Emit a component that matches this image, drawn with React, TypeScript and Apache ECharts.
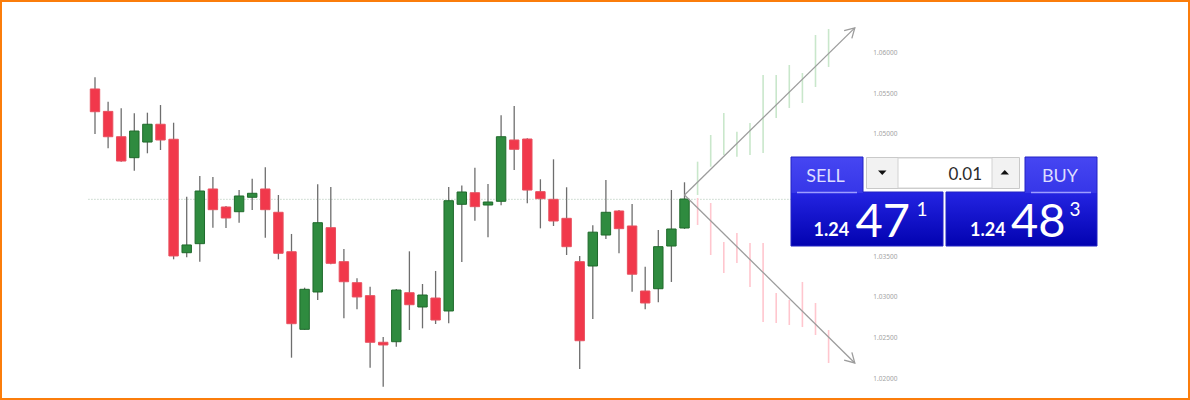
import React, { useEffect, useRef } from 'react';
import * as echarts from 'echarts';

// ---------- data ----------
const categories: string[] = Array.from({ length: 59 }, (_, i) => String(i + 1));

const opens = [
  1.0555, 1.05275, 1.04964, 1.04707, 1.04899, 1.05117, 1.04933, 1.03541, 1.03652, 1.04323,
  1.04102, 1.04044, 1.04221, 1.04323, 1.04037, 1.03553, 1.02601, 1.03059, 1.03848, 1.03431,
  1.03173, 1.03014, 1.02442, 1.02449, 1.0305, 1.02875, 1.02985, 1.02826, 1.04135, 1.04277,
  1.04126, 1.04172, 1.04924, 1.04936, 1.0429, 1.04196, 1.03963, 1.03431, 1.03378, 1.03758,
  1.04053, 1.03869, 1.03071, 1.03099, 1.03623, 1.03844,
];
const closes = [
  1.05271, 1.04964, 1.04666, 1.05034, 1.05117, 1.04924, 1.03501, 1.03636, 1.04298, 1.04069,
  1.03967, 1.04237, 1.0427, 1.04069, 1.03534, 1.0267, 1.03092, 1.03909, 1.03411, 1.03185,
  1.02998, 1.02442, 1.02409, 1.03083, 1.02903, 1.03022, 1.02715, 1.04179, 1.04286, 1.04106,
  1.04163, 1.04964, 1.0481, 1.0431, 1.04204, 1.0393, 1.03615, 1.02461, 1.03793, 1.04037,
  1.03836, 1.03277, 1.02924, 1.03615, 1.03832, 1.042,
];
const lows = [
  1.04998, 1.04822, 1.04658, 1.04547, 1.04761, 1.04801, 1.0346, 1.03485, 1.03431, 1.03848,
  1.03844, 1.03909, 1.04065, 1.03725, 1.0346, 1.02253, 1.02595, 1.02961, 1.03399, 1.02736,
  1.02847, 1.0213, 1.01897, 1.02388, 1.02593, 1.02613, 1.02666, 1.02675, 1.03427, 1.03934,
  1.0373, 1.04123, 1.04556, 1.04147, 1.0384, 1.03869, 1.03513, 1.02114, 1.02728, 1.03709,
  1.03534, 1.03063, 1.02847, 1.02933, 1.03182, 1.03832,
];
const highs = [
  1.05693, 1.05394, 1.05313, 1.05252, 1.05259, 1.05353, 1.05136, 1.04228, 1.04482, 1.0447,
  1.04114, 1.0431, 1.04449, 1.04589, 1.04249, 1.03771, 1.03112, 1.0438, 1.04347, 1.03587,
  1.03227, 1.03124, 1.02507, 1.03096, 1.03558, 1.03157, 1.03317, 1.04347, 1.04366, 1.04584,
  1.04384, 1.05227, 1.05341, 1.04945, 1.04442, 1.04687, 1.04344, 1.03501, 1.03879, 1.04433,
  1.04065, 1.04139, 1.03369, 1.0382, 1.0431, 1.04405,
];

// projected ranges (after the last candle)
const bullLows = [1.04249, 1.04596, 1.0474, 1.04719, 1.0474, 1.04764, 1.05194, 1.05317, 1.05378, 1.05574, 1.0582];
const bullHighs = [1.04658, 1.04985, 1.05255, 1.05026, 1.05133, 1.05722, 1.05722, 1.05844, 1.05746, 1.06212, 1.06286];
const bearLows = [1.03881, 1.03513, 1.03292, 1.03415, 1.0312, 1.02691, 1.02679, 1.02654, 1.02629, 1.02531, 1.02188];
const bearHighs = [1.04212, 1.04151, 1.03672, 1.03783, 1.0366, 1.0366, 1.03047, 1.02961, 1.03182, 1.02924, 1.02593];

const arrowStart = [45, 1.0425];
const arrowUpEnd = [58, 1.063];
const arrowDownEnd = [58, 1.02188];

const referenceLevel = 1.04196;
const yTickLabels = ['1.02000', '1.02500', '1.03000', '1.03500', '1.05000', '1.05500', '1.06000'];

const spinnerValue = '0.01';
const sellPrefix = '1.24';
const sellPips = '47';
const sellFraction = '1';
const buyPrefix = '1.24';
const buyPips = '48';
const buyFraction = '3';

// ---------- component ----------
export default function App() {
  const ref = useRef<HTMLDivElement>(null);

  useEffect(() => {
    if (!ref.current) return;
    const chart = echarts.init(ref.current, null, { renderer: 'svg' });

    const candleData = opens.map((o, i) => [i, o, closes[i], lows[i], highs[i]]);
    const bullData = bullLows.map((l, i) => [opens.length + i, l, bullHighs[i]]);
    const bearData = bearLows.map((l, i) => [opens.length + i, l, bearHighs[i]]);
    const arrowData = [
      [arrowStart[0], arrowStart[1], arrowUpEnd[0], arrowUpEnd[1]],
      [arrowStart[0], arrowStart[1], arrowDownEnd[0], arrowDownEnd[1]],
    ];

    const FONT = 'Lato, "Noto Sans", sans-serif';
    const tabGrad = {
      type: 'linear', x: 0, y: 0, x2: 0, y2: 1,
      colorStops: [{ offset: 0, color: '#4646f2' }, { offset: 1, color: '#3636e8' }],
    };
    const bodyGrad = {
      type: 'linear', x: 0, y: 0, x2: 0, y2: 1,
      colorStops: [{ offset: 0, color: '#2424e2' }, { offset: 1, color: '#0202b0' }],
    };

    const txt = (text: string, x: number, y: number, size: number, opts: any = {}) => ({
      type: 'text', x, y, z: 120,
      style: {
        text, fontSize: size, fontFamily: FONT, fill: opts.fill || '#ffffff',
        fontWeight: opts.weight || 'normal', align: opts.align || 'left', verticalAlign: 'middle',
      },
    });

    const graphics: any[] = [
      // SELL block
      { type: 'rect', z: 110, shape: { x: 791, y: 192, width: 152, height: 54 }, style: { fill: bodyGrad } },
      { type: 'rect', z: 110, shape: { x: 791, y: 157, width: 72, height: 36 }, style: { fill: tabGrad } },
      { type: 'polygon', z: 111, shape: { points: [[791, 157], [863, 157], [863, 192], [943, 192], [943, 246], [791, 246]] }, style: { fill: 'none', stroke: '#2323c4', lineWidth: 1 } },
      { type: 'line', z: 112, shape: { x1: 797, y1: 192.5, x2: 857, y2: 192.5 }, style: { stroke: '#9d9dff', lineWidth: 1.5 } },
      // BUY block
      { type: 'rect', z: 110, shape: { x: 946, y: 192, width: 151, height: 54 }, style: { fill: bodyGrad } },
      { type: 'rect', z: 110, shape: { x: 1025, y: 157, width: 72, height: 36 }, style: { fill: tabGrad } },
      { type: 'polygon', z: 111, shape: { points: [[1025, 157], [1097, 157], [1097, 246], [946, 246], [946, 192], [1025, 192]] }, style: { fill: 'none', stroke: '#2323c4', lineWidth: 1 } },
      { type: 'line', z: 112, shape: { x1: 1031, y1: 192.5, x2: 1091, y2: 192.5 }, style: { stroke: '#9d9dff', lineWidth: 1.5 } },
      // spinner
      { type: 'rect', z: 110, shape: { x: 866.5, y: 157.5, width: 153, height: 31 }, style: { fill: '#f2f2f2', stroke: '#c9c9c9', lineWidth: 1 } },
      { type: 'rect', z: 111, shape: { x: 898, y: 158, width: 94, height: 30 }, style: { fill: '#ffffff', stroke: '#d2d2d2', lineWidth: 1 } },
      { type: 'polygon', z: 112, shape: { points: [[878, 170.5], [886.5, 170.5], [882.25, 175]] }, style: { fill: '#111111' } },
      { type: 'polygon', z: 112, shape: { points: [[1000.5, 174.5], [1009, 174.5], [1004.75, 170]] }, style: { fill: '#111111' } },
      // texts
      txt('SELL', 825.5, 174.5, 18, { align: 'center', fill: '#dcdcff' }),
      txt('BUY', 1060, 174.5, 18, { align: 'center', fill: '#dcdcff' }),
      txt(spinnerValue, 982, 173.5, 17, { align: 'right', fill: '#2b2b2b' }),
      txt(sellPrefix, 813.5, 229, 18, { weight: 'bold' }),
      txt(sellPips, 855.5, 219, 47),
      txt(sellFraction, 922, 208, 19, { align: 'center' }),
      txt(buyPrefix, 970, 229, 18, { weight: 'bold' }),
      txt(buyPips, 1011, 219, 47),
      txt(buyFraction, 1075, 208, 19, { align: 'center' }),
      // orange frame
      { type: 'rect', z: 200, silent: true, shape: { x: 1, y: 1, width: 1188, height: 398 }, style: { fill: 'none', stroke: '#fb7d0b', lineWidth: 2 } },
    ];

    const rangeRender = (color: string) => (params: any, api: any) => {
      const a = api.coord([api.value(0), api.value(1)]);
      const b = api.coord([api.value(0), api.value(2)]);
      return { type: 'line', shape: { x1: a[0], y1: a[1], x2: b[0], y2: b[1] }, style: { stroke: color, lineWidth: 1.6 } };
    };

    chart.setOption({
      animation: false,
      backgroundColor: '#ffffff',
      grid: { left: 88.45, width: 772.9, top: 11.55, height: 407.5, outerBoundsMode: 'none', containLabel: false },
      xAxis: { type: 'category', data: categories, boundaryGap: true, show: false },
      yAxis: {
        type: 'value', position: 'right', min: 1.015, max: 1.065, interval: 0.005, scale: true,
        axisLine: { show: false }, axisTick: { show: false }, splitLine: { show: false },
        axisLabel: {
          margin: 12, fontSize: 6.5, color: '#a3a3a3', fontFamily: '"Noto Sans", sans-serif',
          formatter: (v: number) => {
            const s = v.toFixed(5);
            return yTickLabels.includes(s) ? s : '';
          },
        },
      },
      graphic: graphics,
      series: [
        {
          type: 'custom', data: [[0, referenceLevel]], encode: { x: 0, y: 1 }, silent: true,
          renderItem: (params: any, api: any) => {
            const y = api.coord([0, api.value(1)])[1];
            const cs = params.coordSys;
            return {
              type: 'line',
              shape: { x1: cs.x, y1: y, x2: cs.x + cs.width, y2: y },
              style: { stroke: '#a9c0af', lineWidth: 1, lineDash: [1, 2] },
            };
          },
        },
        { type: 'custom', data: bullData, encode: { x: 0, y: [1, 2] }, renderItem: rangeRender('#c9e7cb'), silent: true },
        { type: 'custom', data: bearData, encode: { x: 0, y: [1, 2] }, renderItem: rangeRender('#ffc6ce'), silent: true },
        {
          type: 'custom', data: candleData, encode: { x: 0, y: [1, 2, 3, 4] }, silent: true,
          renderItem: (params: any, api: any) => {
            const i = api.value(0);
            const o = api.value(1), c = api.value(2), l = api.value(3), h = api.value(4);
            const pO = api.coord([i, o]);
            const pC = api.coord([i, c]);
            const pL = api.coord([i, l]);
            const pH = api.coord([i, h]);
            const w = api.size([1, 0])[0] * 0.72;
            const up = c >= o;
            const top = Math.min(pO[1], pC[1]);
            const bh = Math.max(Math.abs(pO[1] - pC[1]), 2);
            return {
              type: 'group',
              children: [
                { type: 'line', shape: { x1: pH[0], y1: pH[1], x2: pL[0], y2: pL[1] }, style: { stroke: '#6e6e6e', lineWidth: 1.3 } },
                {
                  type: 'rect', shape: { x: pO[0] - w / 2, y: top, width: w, height: bh },
                  style: { fill: up ? '#2f8b3f' : '#f1384b', stroke: up ? '#1f6a2b' : '#e8505f', lineWidth: 1 },
                },
              ],
            };
          },
        },
        {
          type: 'custom', data: arrowData, encode: { x: [0, 2], y: [1, 3] }, silent: true,
          renderItem: (params: any, api: any) => {
            const p0 = api.coord([api.value(0), api.value(1)]);
            const p1 = api.coord([api.value(2), api.value(3)]);
            const ang = Math.atan2(p1[1] - p0[1], p1[0] - p0[0]);
            const len = 11;
            const h1 = [p1[0] - len * Math.cos(ang - Math.PI / 6), p1[1] - len * Math.sin(ang - Math.PI / 6)];
            const h2 = [p1[0] - len * Math.cos(ang + Math.PI / 6), p1[1] - len * Math.sin(ang + Math.PI / 6)];
            const st = { stroke: '#9c9c9c', lineWidth: 1.3, fill: 'none' };
            return {
              type: 'group',
              children: [
                { type: 'line', shape: { x1: p0[0], y1: p0[1], x2: p1[0], y2: p1[1] }, style: st },
                { type: 'polyline', shape: { points: [h1, p1, h2] }, style: st },
              ],
            };
          },
        },
      ],
    });

    return () => chart.dispose();
  }, []);

  return (
    <div
      ref={ref}
      style={{ position: 'fixed', left: 0, top: 0, width: 1190, height: 400, background: '#ffffff' }}
    />
  );
}
